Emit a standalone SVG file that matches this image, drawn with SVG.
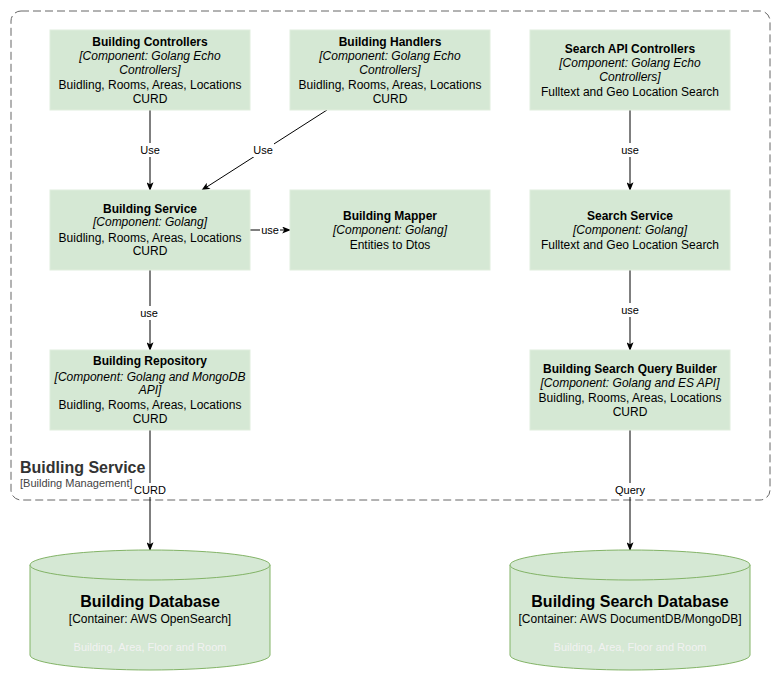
<svg xmlns="http://www.w3.org/2000/svg" width="781" height="681" viewBox="0 0 781 681">
  <style>
    text { font-family: "Liberation Sans", Arial, Helvetica, sans-serif; text-anchor: middle; fill: #000; }
    .node rect { fill: #d5e8d4; stroke: #e0eedd; stroke-width: 1; }
    .t { font-size: 12px; font-weight: bold; }
    .k { font-size: 12px; font-style: italic; }
    .d { font-size: 12px; }
    .db path, .db ellipse { fill: #d5e8d4; stroke: #82b366; stroke-width: 1; }
    .dbt { font-size: 16px; font-weight: bold; }
    .dbk { font-size: 12px; }
    .dbd { font-size: 11px; fill: #f2f2f2; }
    .edge line { stroke: #000; stroke-width: 1; fill: none; marker-end: url(#arrow); }
    .lbl { font-size: 11px; }
    .lblbg { fill: #fff; }
  </style>
  <defs>
    <marker id="arrow" viewBox="0 0 10 8" refX="9" refY="4" markerWidth="9" markerHeight="7" markerUnits="userSpaceOnUse" orient="auto">
      <path d="M0,0 L10,4 L0,8 L2.5,4 Z" fill="#000"/>
    </marker>
  </defs>

  <rect width="781" height="681" fill="#fff"/>

  <!-- system boundary -->
  <g id="boundary">
    <rect x="11" y="11" width="759" height="489" rx="10" ry="10" fill="none" stroke="#666" stroke-width="1" stroke-dasharray="8 4"/>
    <text x="20" y="473" style="text-anchor:start;font-size:16px;font-weight:bold;fill:#333">Buidling Service</text>
    <text x="20" y="487" style="text-anchor:start;font-size:11px;fill:#444">[Building Management]</text>
  </g>

  <!-- connectors -->
  <g id="connectors" class="edge">
    <line x1="150" y1="110" x2="150" y2="190"/>
    <line x1="327" y1="110" x2="202" y2="190"/>
    <line x1="250" y1="230" x2="290" y2="230"/>
    <line x1="150" y1="270" x2="150" y2="350"/>
    <line x1="630" y1="110" x2="630" y2="190"/>
    <line x1="630" y1="270" x2="630" y2="350"/>
    <line x1="150" y1="430" x2="150" y2="550"/>
    <line x1="630" y1="430" x2="630" y2="550"/>

    <rect class="lblbg" x="139" y="143" width="22" height="14"/>
    <text class="lbl" x="150" y="154">Use</text>
    <rect class="lblbg" x="252" y="143" width="22" height="14"/>
    <text class="lbl" x="263" y="154">Use</text>
    <rect class="lblbg" x="260" y="224" width="20" height="13"/>
    <text class="lbl" x="270" y="234">use</text>
    <rect class="lblbg" x="139" y="306" width="21" height="14"/>
    <text class="lbl" x="149" y="317">use</text>
    <rect class="lblbg" x="620" y="143" width="21" height="14"/>
    <text class="lbl" x="630" y="154">use</text>
    <rect class="lblbg" x="620" y="303" width="21" height="14"/>
    <text class="lbl" x="630" y="314">use</text>
    <rect class="lblbg" x="134" y="483" width="33" height="14"/>
    <text class="lbl" x="150" y="494">CURD</text>
    <rect class="lblbg" x="613" y="483" width="34" height="14"/>
    <text class="lbl" x="630" y="494">Query</text>
  </g>

  <!-- components -->
  <g id="building-controllers" class="node">
    <rect x="50" y="30" width="200" height="80"/>
    <text class="t" x="150" y="46">Building Controllers</text>
    <text class="k" x="150" y="60">[Component: Golang Echo</text>
    <text class="k" x="150" y="74">Controllers]</text>
    <text class="d" x="150" y="89">Buidling, Rooms, Areas, Locations</text>
    <text class="d" x="150" y="103">CURD</text>
  </g>

  <g id="building-handlers" class="node">
    <rect x="290" y="30" width="200" height="80"/>
    <text class="t" x="390" y="46">Building Handlers</text>
    <text class="k" x="390" y="60">[Component: Golang Echo</text>
    <text class="k" x="390" y="74">Controllers]</text>
    <text class="d" x="390" y="89">Buidling, Rooms, Areas, Locations</text>
    <text class="d" x="390" y="103">CURD</text>
  </g>

  <g id="search-api-controllers" class="node">
    <rect x="530" y="30" width="200" height="80"/>
    <text class="t" x="630" y="53">Search API Controllers</text>
    <text class="k" x="630" y="67">[Component: Golang Echo</text>
    <text class="k" x="630" y="81">Controllers]</text>
    <text class="d" x="630" y="96">Fulltext and Geo Location Search</text>
  </g>

  <g id="building-service" class="node">
    <rect x="50" y="190" width="200" height="80"/>
    <text class="t" x="150" y="213">Building Service</text>
    <text class="k" x="150" y="226">[Component: Golang]</text>
    <text class="d" x="150" y="242">Buidling, Rooms, Areas, Locations</text>
    <text class="d" x="150" y="255">CURD</text>
  </g>

  <g id="building-mapper" class="node">
    <rect x="290" y="190" width="200" height="80"/>
    <text class="t" x="390" y="220">Building Mapper</text>
    <text class="k" x="390" y="234">[Component: Golang]</text>
    <text class="d" x="390" y="249">Entities to Dtos</text>
  </g>

  <g id="search-service" class="node">
    <rect x="530" y="190" width="200" height="80"/>
    <text class="t" x="630" y="220">Search Service</text>
    <text class="k" x="630" y="234">[Component: Golang]</text>
    <text class="d" x="630" y="249">Fulltext and Geo Location Search</text>
  </g>

  <g id="building-repository" class="node">
    <rect x="50" y="350" width="200" height="80"/>
    <text class="t" x="150" y="365">Building Repository</text>
    <text class="k" x="150" y="381">[Component: Golang and MongoDB</text>
    <text class="k" x="150" y="394">API]</text>
    <text class="d" x="150" y="409">Buidling, Rooms, Areas, Locations</text>
    <text class="d" x="150" y="423">CURD</text>
  </g>

  <g id="search-query-builder" class="node">
    <rect x="530" y="350" width="200" height="80"/>
    <text class="t" x="630" y="373">Building Search Query Builder</text>
    <text class="k" x="630" y="387">[Component: Golang and ES API]</text>
    <text class="d" x="630" y="402">Buidling, Rooms, Areas, Locations</text>
    <text class="d" x="630" y="416">CURD</text>
  </g>

  <!-- databases -->
  <g id="building-database" class="db">
    <path d="M30,565 A120,15 0 0 1 270,565 L270,655 A120,15 0 0 1 30,655 Z"/>
    <path d="M30,565 A120,15 0 0 0 270,565" fill="none"/>
    <text class="dbt" x="150" y="607">Building Database</text>
    <text class="dbk" x="150" y="623">[Container: AWS OpenSearch]</text>
    <text class="dbd" x="150" y="651">Building, Area, Floor and Room</text>
  </g>

  <g id="building-search-database" class="db">
    <path d="M510,565 A120,15 0 0 1 750,565 L750,655 A120,15 0 0 1 510,655 Z"/>
    <path d="M510,565 A120,15 0 0 0 750,565" fill="none"/>
    <text class="dbt" x="630" y="607">Building Search Database</text>
    <text class="dbk" x="630" y="623">[Container: AWS DocumentDB/MongoDB]</text>
    <text class="dbd" x="630" y="651">Building, Area, Floor and Room</text>
  </g>
</svg>
